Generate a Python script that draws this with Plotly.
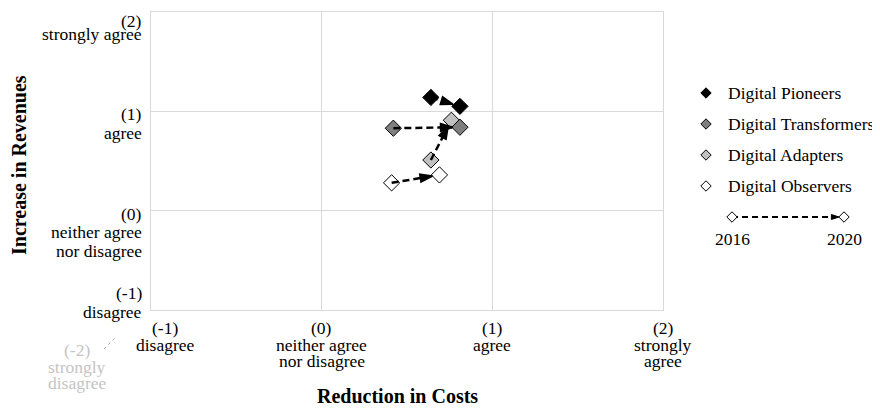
import plotly.graph_objects as go

# ---------------- data ----------------
groups = ["Digital Pioneers", "Digital Transformers", "Digital Adapters", "Digital Observers"]
group_colors = ["#000000", "#7f7f7f", "#c0c0c0", "#ffffff"]
cost_2016 = [0.64, 0.42, 0.64, 0.41]
rev_2016 = [1.14, 0.83, 0.51, 0.28]
cost_2020 = [0.81, 0.81, 0.76, 0.69]
rev_2020 = [1.05, 0.84, 0.91, 0.36]

tick_vals = [-1, 0, 1, 2]
y_tick_text = [["(-1)", "disagree"], ["(0)", "neither agree", "nor disagree"],
               ["(1)", "agree"], ["(2)", "strongly agree"]]
x_tick_text = [["(-1)", "disagree"], ["(0)", "neither agree", "nor disagree"],
               ["(1)", "agree"], ["(2)", "strongly", "agree"]]
ghost_text = ["(-2)", "strongly", "disagree"]
years = ["2016", "2020"]
x_title = "Reduction in Costs"
y_title = "Increase in Revenues"

# ---------------- layout geometry (page px) ----------------
OFF = 8                      # default body margin of the html page
W, H = 880 - OFF, 410 - OFF  # figure size so that it fits the window
PL, PR, PT, PB = 151, 663, 12, 310
FONT = "Liberation Serif, Times New Roman, serif"
TICK_FS = 17.5
GRID = "#d9d9d9"


def xp(px):
    return (px - OFF) / W


def yp(py):
    return 1 - (py - OFF) / H


def x_px(v):
    return PL + (v - tick_vals[0]) / (tick_vals[-1] - tick_vals[0]) * (PR - PL)


def y_px(v):
    return PB - (v - tick_vals[0]) / (tick_vals[-1] - tick_vals[0]) * (PB - PT)


fig = go.Figure()

# diamonds (drawn bottom to top)
for i in reversed(range(len(groups))):
    fig.add_trace(go.Scatter(
        x=[cost_2016[i], cost_2020[i]], y=[rev_2016[i], rev_2020[i]],
        mode="markers", name=groups[i], showlegend=False, hoverinfo="skip",
        marker=dict(symbol="diamond", size=12.5, color=group_colors[i],
                    line=dict(color="black", width=1)),
        xaxis="x", yaxis="y"))

# dashed arrows 2016 -> 2020
for i in range(len(groups)):
    fig.add_trace(go.Scatter(
        x=[cost_2016[i], cost_2020[i]], y=[rev_2016[i], rev_2020[i]],
        mode="lines+markers", showlegend=False, hoverinfo="skip",
        line=dict(color="black", width=2.5, dash="7px,4px"),
        marker=dict(symbol=["circle", "arrow"], size=[0, 13], color="black", opacity=1,
                    angleref="previous", standoff=[0, 7],
                    line=dict(color="black", width=[0, 1.5])),
        xaxis="x", yaxis="y"))

# ---------------- legend (aux axes in page px) ----------------
LEG_X, LEG_TX, LEG_Y0, LEG_DY = 706, 726, 93, 31
for i in range(len(groups)):
    fig.add_trace(go.Scatter(
        x=[LEG_X], y=[LEG_Y0 + i * LEG_DY], mode="markers", showlegend=False,
        hoverinfo="skip",
        marker=dict(symbol="diamond", size=8, color=group_colors[i],
                    line=dict(color="black", width=1)),
        xaxis="x2", yaxis="y2"))
    fig.add_annotation(xref="paper", yref="paper", x=xp(LEG_TX), y=yp(LEG_Y0 + i * LEG_DY),
                       text=groups[i], showarrow=False, xanchor="left", yanchor="middle",
                       font=dict(family=FONT, size=17.5, color="black"))

SX0, SX1, SY = 732, 844, 217
fig.add_trace(go.Scatter(
    x=[SX0, SX1], y=[SY, SY], mode="lines+markers", showlegend=False, hoverinfo="skip",
    line=dict(color="black", width=1.8, dash="6px,4px"),
    marker=dict(symbol=["circle", "arrow"], size=[0, 8], color="black", opacity=1,
                angleref="previous", standoff=[0, 5],
                line=dict(color="black", width=[0, 1])),
    xaxis="x2", yaxis="y2"))
fig.add_trace(go.Scatter(
    x=[SX0, SX1], y=[SY, SY], mode="markers", showlegend=False, hoverinfo="skip",
    marker=dict(symbol="diamond", size=8, color="white", line=dict(color="black", width=1)),
    xaxis="x2", yaxis="y2"))
for sx, yr in zip([SX0, SX1], years):
    fig.add_annotation(xref="paper", yref="paper", x=xp(sx), y=yp(239), text=yr,
                       showarrow=False, xanchor="center", yanchor="middle",
                       font=dict(family=FONT, size=17.5, color="black"))

# ---------------- tick labels ----------------
Y_LINE = 18.5
for v, lines in zip(tick_vals, y_tick_text):
    first = y_px(v) + (3 if v != -1 else -17)
    for k, t in enumerate(lines):
        yy = first + k * Y_LINE
        if k == 0 and yy - TICK_FS * 0.66 < OFF:
            # keep the top label inside the figure
            fig.add_annotation(xref="paper", yref="paper", x=xp(144), y=yp(OFF + 0.5),
                               text=t, showarrow=False, xanchor="right", yanchor="top",
                               font=dict(family=FONT, size=TICK_FS, color="black"))
            continue
        fig.add_annotation(xref="paper", yref="paper", x=xp(144), y=yp(yy),
                           text=t, showarrow=False, xanchor="right", yanchor="middle",
                           font=dict(family=FONT, size=TICK_FS, color="black"))

X_LINE = 16.5
for v, lines in zip(tick_vals, x_tick_text):
    cx = x_px(v) + (14 if v == -1 else 0)
    for k, t in enumerate(lines):
        fig.add_annotation(xref="paper", yref="paper", x=xp(cx), y=yp(328 + k * X_LINE),
                           text=t, showarrow=False, xanchor="center", yanchor="middle",
                           font=dict(family=FONT, size=TICK_FS, color="black"))

for k, t in enumerate(ghost_text):
    fig.add_annotation(xref="paper", yref="paper", x=xp(77), y=yp(350 + k * X_LINE),
                       text=t, showarrow=False, xanchor="center", yanchor="middle",
                       font=dict(family=FONT, size=TICK_FS, color="#c4c4c4"))
fig.add_shape(type="line", xref="paper", yref="paper", x0=xp(104), y0=yp(349),
              x1=xp(116), y1=yp(337), line=dict(color="#b0b0b0", width=1, dash="dot"))

# axis titles
fig.add_annotation(xref="paper", yref="paper", x=xp(397), y=yp(396), text="<b>%s</b>" % x_title,
                   showarrow=False, xanchor="center", yanchor="middle",
                   font=dict(family=FONT, size=20, color="black"))
fig.add_annotation(xref="paper", yref="paper", x=xp(19), y=yp(165), text="<b>%s</b>" % y_title,
                   showarrow=False, xanchor="center", yanchor="middle", textangle=-90,
                   font=dict(family=FONT, size=20, color="black"))

axis_common = dict(range=[tick_vals[0], tick_vals[-1]], tickvals=tick_vals, showticklabels=False,
                   showgrid=True, gridcolor=GRID, gridwidth=1, zeroline=False,
                   showline=True, linecolor=GRID, linewidth=1, mirror=True, ticks="",
                   fixedrange=True)

fig.update_layout(
    width=W, height=H, margin=dict(l=0, r=0, t=0, b=0, autoexpand=False),
    paper_bgcolor="white", plot_bgcolor="rgba(0,0,0,0)", showlegend=False,
    font=dict(family=FONT, color="black"),
    xaxis=dict(domain=[xp(PL), xp(PR)], anchor="y", **axis_common),
    yaxis=dict(domain=[yp(PB), yp(PT)], anchor="x", **axis_common),
    xaxis2=dict(domain=[0, 1], range=[OFF, OFF + W], anchor="y2", visible=False, fixedrange=True),
    yaxis2=dict(domain=[0, 1], range=[OFF + H, OFF], anchor="x2", visible=False, fixedrange=True),
)

fig.write_html("out.html")
